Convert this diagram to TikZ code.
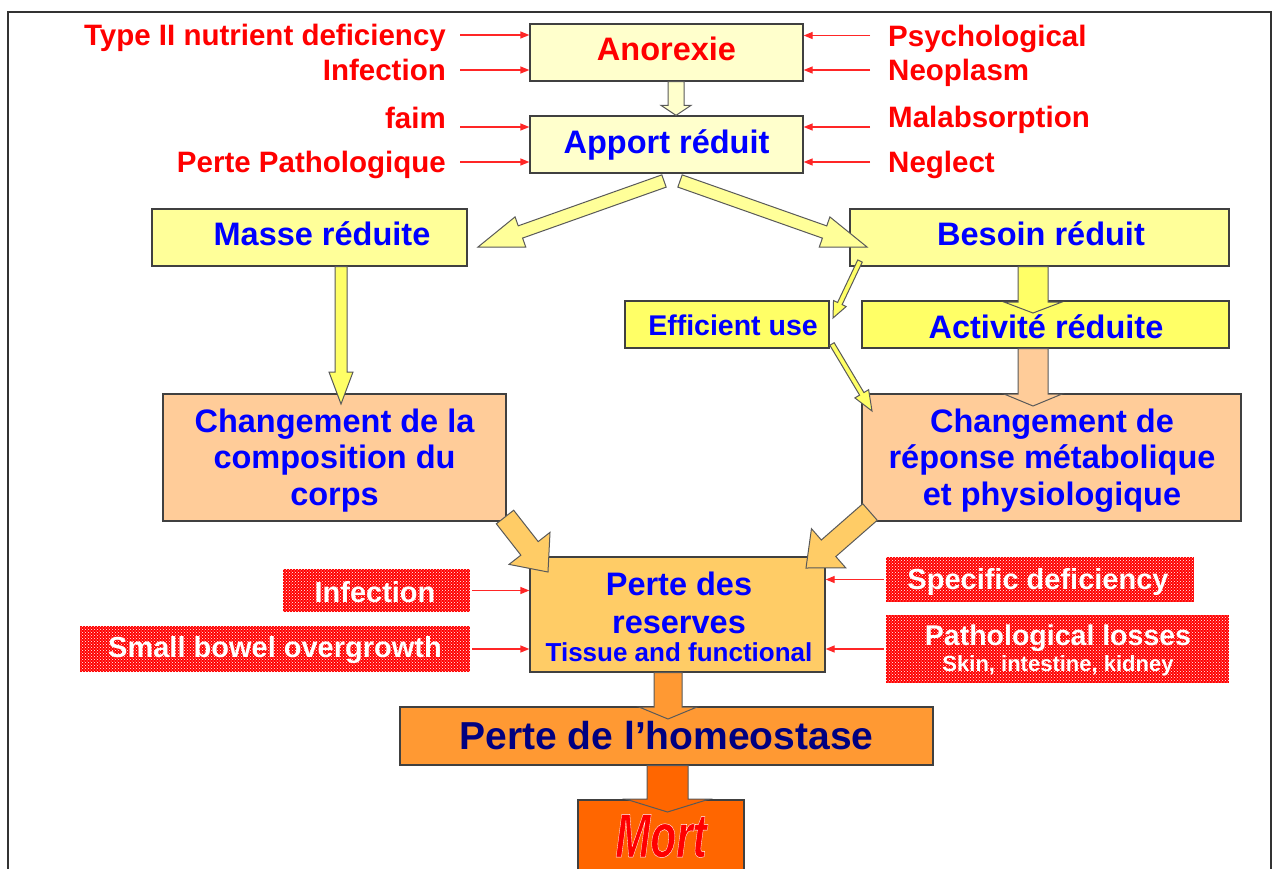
\documentclass[tikz,border=0pt]{standalone}
\usepackage{fontspec}
\setmainfont{Liberation Sans}
\usetikzlibrary{calc,arrows.meta,patterns}
\definecolor{lyel}{HTML}{FFFFCC}
\definecolor{myel}{HTML}{FFFF99}
\definecolor{byel}{HTML}{FFFF66}
\definecolor{peach}{HTML}{FFCC99}
\definecolor{gold}{HTML}{FFCC66}
\definecolor{orng}{HTML}{FF9933}
\definecolor{dorng}{HTML}{FF6600}
\definecolor{bl}{HTML}{0000FF}
\definecolor{navy}{HTML}{000080}
\definecolor{rd}{HTML}{FF0000}
\newcommand{\blockarr}[6]{%
  \coordinate (ba-h) at ($(#2)!#5!(#1)$);
  \draw[barrow, fill=#6] ($(#1)!#3!90:(#2)$) -- ($(ba-h)!#3!-90:(#1)$) -- ($(ba-h)!#4!-90:(#1)$) -- (#2)
     -- ($(ba-h)!#4!90:(#1)$) -- ($(ba-h)!#3!90:(#1)$) -- ($(#1)!#3!-90:(#2)$) -- cycle;}
\newcommand{\outlinetext}[1]{\special{pdf:literal direct 1 0 0 rg 1 1 1 RG 0.45 w 1 j 2 Tr}#1\special{pdf:literal direct 0 Tr}}
\tikzset{
  box/.style={draw=black!75, line width=1.3pt, text=bl, align=center, inner sep=0pt,
    font=\bfseries\fontsize{32.5}{36.5}\selectfont},
  txt/.style={text=bl, align=center, inner sep=0pt, font=\bfseries\fontsize{32.5}{36.5}\selectfont},
  lab/.style={text=rd, inner sep=0pt, text height=21pt, text depth=0pt,
    font=\bfseries\fontsize{29.5}{31}\selectfont},
  pbox/.style={preaction={fill=rd}, pattern=crosshatch dots, pattern color=white,
    text=white, align=center, inner sep=0pt, font=\bfseries\fontsize{29}{30}\selectfont},
  redarr/.style={draw=rd!85!white, line width=1.3pt, -{Triangle[length=9pt,width=7pt]}},
  barrow/.style={draw=black!65, line width=1pt, line join=miter},
}
\begin{document}
\begin{tikzpicture}[x=1pt,y=-1pt]
\fill[white] (0,0) rectangle (1274,868);
\useasboundingbox (0,0) rectangle (1274,868);
\draw[black!80, line width=2.5pt] (8,880) -- (8,12) -- (1271,12) -- (1271,880);

% boxes
\node[box, fill=lyel, text=rd, minimum width=273pt, minimum height=57pt] (anor) at (666.5,52.5) {};
\node[txt, text=rd] (anort) at (666.5,49) {Anorexie};
\node[box, fill=lyel, minimum width=273pt, minimum height=57pt] (apport) at (666.5,144.5) {Apport réduit};
\node[box, fill=myel, minimum width=315pt, minimum height=57pt] (masse) at (309.5,237.5) {};
\node[txt] (masset) at (322,234) {Masse réduite};
\node[box, fill=myel, minimum width=379pt, minimum height=57pt] (besoin) at (1039.5,237.5) {};
\node[txt] (besoint) at (1041,234) {Besoin réduit};
\node[box, fill=byel, minimum width=204pt, minimum height=47pt, font=\bfseries\fontsize{28.5}{30}\selectfont] (eff) at (727,324.5) {};
\node[txt, font=\bfseries\fontsize{28.5}{30}\selectfont] (efft) at (733,325) {Efficient use};
\node[box, fill=byel, minimum width=367pt, minimum height=47pt] (activ) at (1045.5,324.5) {};
\node[txt] (activt) at (1046,327) {Activité réduite};
\node[box, fill=peach, minimum width=343pt, minimum height=127pt] (chg1) at (334.5,457.5) {};
\node[txt] (chg1t) at (334.5,460.5) {Changement de la\\composition du\\corps};
\node[box, fill=peach, minimum width=379pt, minimum height=127pt] (chg2) at (1051.5,457.5) {};
\node[txt] (chg2t) at (1052,460.5) {Changement de\\réponse métabolique\\et physiologique};
\node[box, fill=gold, minimum width=295pt, minimum height=115pt] (res) at (677.5,614.5) {};
\node[txt, font=\bfseries\fontsize{32.5}{38}\selectfont] (rest) at (679,603) {Perte des\\reserves};
\node[txt, font=\bfseries\fontsize{26}{28}\selectfont] (rest2) at (679,652) {Tissue and functional};
\node[box, fill=orng, text=navy, minimum width=533pt, minimum height=58pt, font=\bfseries\fontsize{39}{42}\selectfont] (homeo) at (666.5,736) {Perte de l’homeostase};
\node[box, fill=dorng, minimum width=166pt, minimum height=80pt] (mort) at (661,840) {};
\node[text=rd, inner sep=0pt, xscale=0.68, transform shape, font=\bfseries\itshape\fontsize{62}{64}\selectfont] (mortt) at (661,836) {\outlinetext{Mort}};

% red labels
\node[lab, anchor=east] (l1) at (446,35) {Type II nutrient deficiency};
\node[lab, anchor=east] (l2) at (446,70) {Infection};
\node[lab, anchor=east] (l3) at (446,118) {faim};
\node[lab, anchor=east] (l4) at (446,162) {Perte Pathologique};
\node[lab, anchor=west] (r1) at (888,35.5) {Psychological};
\node[lab, anchor=west] (r2) at (888,70) {Neoplasm};
\node[lab, anchor=west] (r3) at (888,117) {Malabsorption};
\node[lab, anchor=west] (r4) at (888,162) {Neglect};

\draw[redarr] ([xshift=14pt]l1.east) -- (l1.east -| anor.west);
\draw[redarr] ([xshift=14pt]l2.east) -- (l2.east -| anor.west);
\draw[redarr] ([shift={(14pt,-9pt)}]l3.east) -- ([yshift=17.5pt]apport.west);
\draw[redarr] ([xshift=14pt]l4.east) -- (l4.east -| apport.west);
\draw[redarr] ([xshift=-18pt]r1.west) -- (r1.west -| anor.east);
\draw[redarr] ([xshift=-18pt]r2.west) -- (r2.west -| anor.east);
\draw[redarr] ([shift={(-18pt,-10pt)}]r3.west) -- ([yshift=17.5pt]apport.east);
\draw[redarr] ([xshift=-18pt]r4.west) -- (r4.west -| apport.east);

% patterned boxes
\node[pbox, minimum width=187pt, minimum height=43pt] (pinf) at (376.5,590.5) {};
\node[txt, text=white, font=\bfseries\fontsize{29}{30}\selectfont] (pinft) at (375,592) {Infection};
\node[pbox, minimum width=390pt, minimum height=46pt] (psmall) at (275,649) {};
\node[txt, text=white, font=\bfseries\fontsize{29}{30}\selectfont] (psmallt) at (275,650) {Small bowel overgrowth};
\node[pbox, minimum width=308pt, minimum height=45pt] (pspec) at (1040,579.5) {};
\node[txt, text=white, font=\bfseries\fontsize{29}{30}\selectfont] (pspect) at (1038,582) {Specific deficiency};
\node[pbox, minimum width=343pt, minimum height=68pt] (ppath) at (1057.5,649) {};
\node[txt, text=white, font=\bfseries\fontsize{28.5}{30}\selectfont] (ppatht) at (1058,638) {Pathological losses};
\node[txt, text=white, font=\bfseries\fontsize{22}{24}\selectfont] (ppatht2) at (1058,666) {Skin, intestine, kidney};

\draw[redarr] ([xshift=2pt]pinf.east) -- (pinf.east -| res.west);
\draw[redarr] ([xshift=2pt]psmall.east) -- (psmall.east -| res.west);
\draw[redarr] ([xshift=-2pt]pspec.west) -- (pspec.west -| res.east);
\draw[redarr] ([xshift=-2pt]ppath.west) -- (ppath.west -| res.east);

% block arrows
\coordinate (s1) at ([xshift=9.5pt]anor.south);
\coordinate (t1) at ([xshift=9.5pt]apport.north);
\coordinate (s2) at (664,181);  \coordinate (t2) at (478,247);
\coordinate (s3) at (680,181);  \coordinate (t3) at (867,247);
\coordinate (s4) at ([xshift=31.5pt]masse.south);
\coordinate (t4) at (341,404);
\coordinate (s5) at ([xshift=-6.5pt]besoin.south);
\coordinate (t5) at (1033,313);
\coordinate (s6) at ([xshift=-12.5pt]activ.south);
\coordinate (t6) at (1033,406);
\coordinate (s7) at (860,261);  \coordinate (t7) at (833,318);
\coordinate (s8) at (832,344);  \coordinate (t8) at (872,411);
\coordinate (s9) at (505,517);  \coordinate (t9) at (548,572);
\coordinate (s10) at (870,512); \coordinate (t10) at (806,568);
\coordinate (s11) at ([xshift=-9.5pt]res.south);
\coordinate (t11) at (668,719);
\coordinate (s12) at ([xshift=1pt]homeo.south);
\coordinate (t12) at (667.5,812);

\blockarr{s1}{t1}{8pt}{15pt}{10pt}{lyel}
\blockarr{s2}{t2}{6.5pt}{16pt}{45pt}{myel}
\blockarr{s3}{t3}{6.5pt}{16pt}{45pt}{myel}
\blockarr{s4}{t4}{6pt}{12pt}{32pt}{byel}
\blockarr{s5}{t5}{15pt}{29pt}{11pt}{byel}
\blockarr{s6}{t6}{15pt}{29pt}{12pt}{peach}
\blockarr{s7}{t7}{2.5pt}{7pt}{16pt}{byel}
\blockarr{s8}{t8}{2.5pt}{8pt}{20pt}{byel}
\blockarr{s9}{t9}{11pt}{26pt}{30pt}{gold}
\blockarr{s10}{t10}{11pt}{26pt}{30pt}{gold}
\blockarr{s11}{t11}{14pt}{29pt}{12pt}{orng}
\blockarr{s12}{t12}{20.5pt}{42pt}{13pt}{dorng}
\end{tikzpicture}
\end{document}
